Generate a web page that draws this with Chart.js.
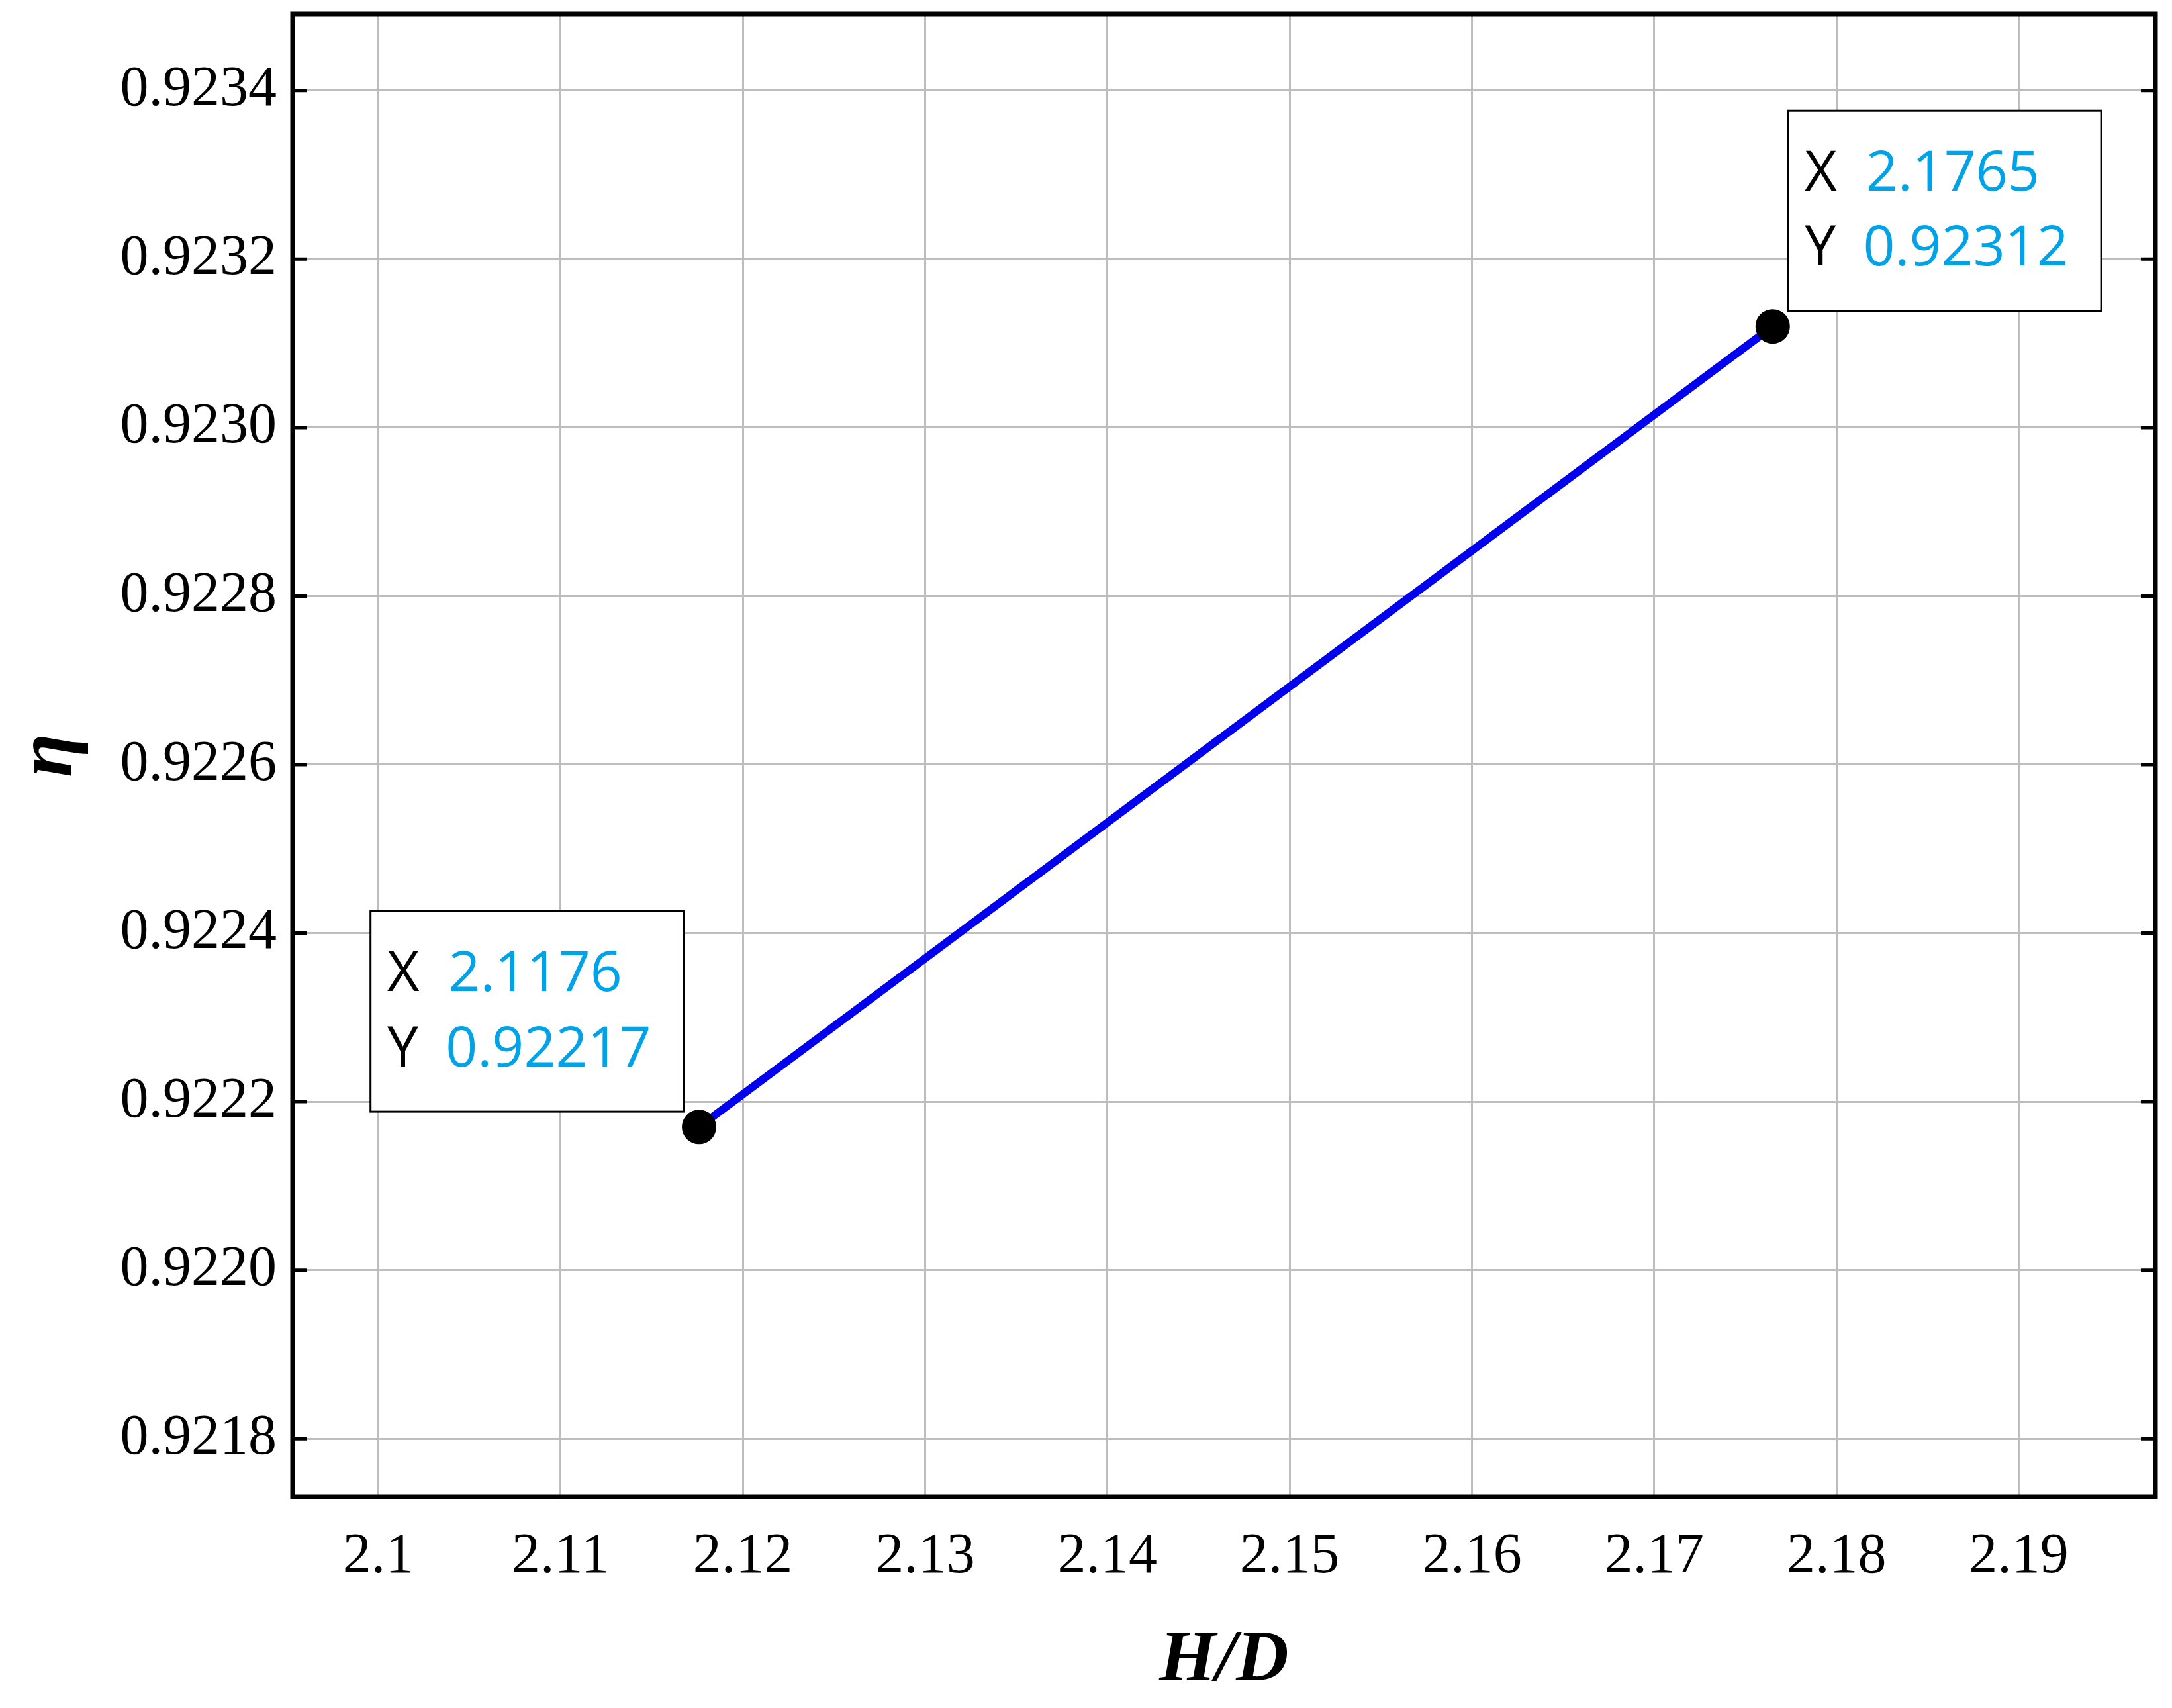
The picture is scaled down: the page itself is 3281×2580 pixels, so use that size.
<!DOCTYPE html>
<html><head><meta charset="utf-8">
<script src="https://cdn.jsdelivr.net/npm/chart.js@4.4.1/dist/chart.umd.min.js"></script>
<style>html,body{margin:0;padding:0;background:#fff}</style>
</head><body>
<canvas id="c" width="3281" height="2580"></canvas>
<script>
const xValues = [2.1176, 2.1765];
const yValues = [0.92217, 0.92312];
const xTicks = [2.10,2.11,2.12,2.13,2.14,2.15,2.16,2.17,2.18,2.19];
const yTicks = [0.9218,0.9220,0.9222,0.9224,0.9226,0.9228,0.9230,0.9232,0.9234];
const labelX = ['2.1176','2.1765'];
const labelY = ['0.92217','0.92312'];
const S = 2.103;
const SERIF = "'Liberation Serif', 'Times New Roman', Times, serif";

const deco = {
  id:'deco',
  afterDraw(ch){
    const ctx=ch.ctx, a=ch.chartArea, ys=ch.scales.y;
    ctx.save();
    ctx.strokeStyle='#000'; ctx.lineWidth=7;
    ctx.strokeRect(a.left,a.top,a.right-a.left,a.bottom-a.top);
    ctx.lineWidth=5;
    yTicks.forEach(v=>{const y=ys.getPixelForValue(v);
      ctx.beginPath();ctx.moveTo(a.left,y);ctx.lineTo(a.left+22,y);
      ctx.moveTo(a.right,y);ctx.lineTo(a.right-22,y);ctx.stroke();});
    const meta=ch.getDatasetMeta(0);
    const W=225*S,H=144*S,g=11*S;
    meta.data.forEach((p,i)=>{
      let bx,by;
      if(i===0){bx=p.x-g-W;by=p.y-g-H;} else {bx=p.x+g;by=p.y-g-H;}
      ctx.fillStyle='#fff';ctx.fillRect(bx,by,W,H);
      ctx.strokeStyle='#000';ctx.lineWidth=3;ctx.strokeRect(bx,by,W,H);
      ctx.font='84px "Open Sans"';ctx.textBaseline='middle';ctx.textAlign='left';
      ctx.fillStyle='#000';
      ctx.fillText('X',bx+12*S,by+46*S);ctx.fillText('Y',bx+12*S,by+100*S);
      ctx.fillStyle='#00a2e8';
      ctx.fillText(labelX[i],bx+56*S,by+46*S);ctx.fillText(labelY[i],bx+54*S,by+100*S);
    });
    ctx.restore();
  }
};

new Chart(document.getElementById('c'),{
  type:'scatter',
  data:{datasets:[{data:xValues.map((x,i)=>({x,y:yValues[i]})),showLine:true,
    borderColor:'#0000ee',borderWidth:12,pointRadius:20,pointBackgroundColor:'#000',pointBorderColor:'#000'}]},
  options:{responsive:false,devicePixelRatio:1,animation:false,
    layout:{padding:{top:21,right:25,left:0,bottom:0},autoPadding:false},
    plugins:{legend:{display:false},tooltip:{enabled:false}},
    scales:{
      x:{type:'linear',min:2.0953,max:2.1975,
        afterBuildTicks:s=>{s.ticks=xTicks.map(v=>({value:v}));},
        afterFit:s=>{s.height=319;s.paddingLeft=0;s.paddingRight=0;},
        grid:{color:'#bdbdbd',lineWidth:3,drawTicks:false},border:{display:false},
        ticks:{padding:40,color:'#000',font:{family:SERIF,size:86},callback:v=>String(+v.toFixed(2))},
        title:{display:true,text:'H/D',color:'#000',padding:{top:30},font:{family:SERIF,size:110,weight:'bold',style:'italic'}}},
      y:{type:'linear',min:0.921731,max:0.923491,
        afterBuildTicks:s=>{s.ticks=yTicks.map(v=>({value:v}));},
        afterFit:s=>{s.width=442;s.paddingTop=0;s.paddingBottom=0;},
        grid:{color:'#bdbdbd',lineWidth:3,drawTicks:false},border:{display:false},
        ticks:{padding:24,color:'#000',font:{family:SERIF,size:86},callback:v=>v.toFixed(4)},
        title:{display:true,text:'η',color:'#000',padding:{bottom:10},font:{family:SERIF,size:120,weight:'bold',style:'italic'}}}
    }},
  plugins:[deco]
});
</script>
</body></html>
